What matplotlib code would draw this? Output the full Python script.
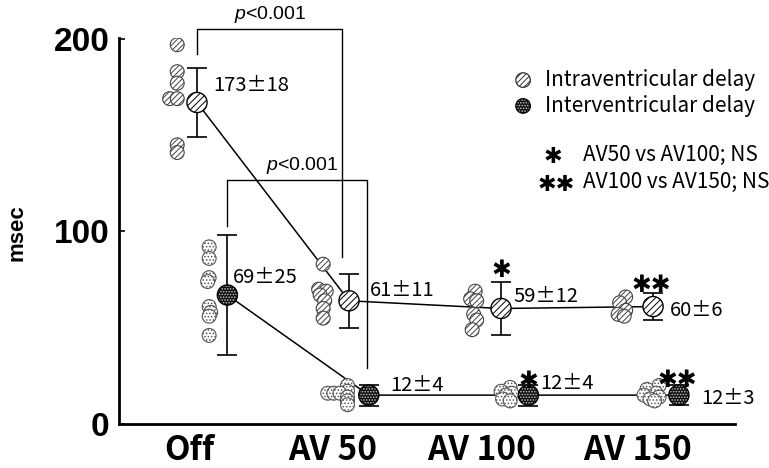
import numpy as np
import matplotlib
matplotlib.use("Agg")
import matplotlib.pyplot as plt

# fonts: Japanese gothic style for the labels, Arial-like for the axis numbers
JP = ['Noto Sans CJK JP', 'DejaVu Sans']
SANS = 'Liberation Sans'
plt.rcParams['hatch.linewidth'] = 0.7
plt.rcParams['mathtext.fontset'] = 'custom'
plt.rcParams['mathtext.it'] = 'Liberation Sans:italic'
plt.rcParams['mathtext.rm'] = 'Liberation Sans'

# 1. Data (msec)

conditions = ['Off', 'AV 50', 'AV 100', 'AV 150']

intra_points = [
    [197, 183, 177, 169, 169, 145, 141],
    [83, 70, 69, 67, 64, 60, 55],
    [69, 65, 64, 57, 54, 49],
    [66, 63, 59, 57, 56],
]
inter_points = [
    [92, 86, 76, 74, 61, 58, 56, 46],
    [20, 17, 16, 16, 16, 14, 12, 10],
    [19, 17, 16, 15, 13, 12],
    [20, 18, 16, 15, 14, 13, 12],
]

intra_mean = [167, 64, 60, 61]
intra_sd = [18, 14, 14, 7]
inter_mean = [67, 15, 15, 15]
inter_sd = [31, 5.5, 5.5, 5]

intra_labels = ['173\u00b118', '61\u00b111', '59\u00b112', '60\u00b16']
inter_labels = ['69\u00b125', '12\u00b14', '12\u00b14', '12\u00b13']

# 2. Layout (x offsets in category units)

intra_ind_dx = [-0.13, -0.17, -0.18, -0.20]
inter_ind_dx = [0.08, -0.04, 0.03, 0.0]
inter_mean_dx = [0.20, 0.13, 0.18, 0.17]
intra_jitter = [
    [0, 0, 0, -0.05, 0, 0, 0],
    [0.0, -0.03, 0.02, -0.02, 0.01, 0, 0],
    [0.01, -0.02, 0.02, 0, 0.02, -0.01],
    [0.02, -0.02, 0.02, -0.03, 0.01],
]
inter_jitter = [
    [0, 0, 0, -0.01, 0, 0.01, 0, 0],
    [0.03, 0.03, -0.10, -0.06, -0.02, 0.03, 0.03, 0.03],
    [0.03, -0.03, 0.04, 0, -0.02, 0.03],
    [0.04, -0.04, 0.02, -0.06, 0.04, -0.02, 0.01],
]
tick_shift = [-0.05, -0.11, -0.125, -0.10]

IND_S = 100
MEAN_S = 210

fig = plt.figure(figsize=(7.69, 4.68), dpi=100)
ax = fig.add_axes([119/769, 44/468, 616/769, 386/468])

x = np.arange(len(conditions))
xi_mean = x.astype(float)
xe_mean = x + np.array(inter_mean_dx)

# connecting lines
ax.plot(xi_mean, intra_mean, color='black', lw=1.1, zorder=1)
ax.plot(xe_mean, inter_mean, color='black', lw=1.1, zorder=1)

# individual patients
for i in range(len(conditions)):
    xs = i + intra_ind_dx[i] + np.array(intra_jitter[i])
    ax.scatter(xs, intra_points[i], s=IND_S, facecolor='white', edgecolor='#444444',
               hatch='//////', linewidth=0.8, zorder=3)
    xs = i + inter_ind_dx[i] + np.array(inter_jitter[i])
    ax.scatter(xs, inter_points[i], s=IND_S, facecolor='white', edgecolor='#555555',
               hatch='.....', linewidth=0.8, zorder=3)

# error bars + means
ax.errorbar(xi_mean, intra_mean, yerr=intra_sd, fmt='none', ecolor='black',
            elinewidth=1.2, capsize=7, capthick=1.2, zorder=2)
ax.errorbar(xe_mean, inter_mean, yerr=inter_sd, fmt='none', ecolor='black',
            elinewidth=1.2, capsize=7, capthick=1.2, zorder=2)
ax.scatter(xi_mean, intra_mean, s=MEAN_S, facecolor='white', edgecolor='black',
           hatch='/////', linewidth=1.0, zorder=4)
ax.scatter(xe_mean, inter_mean, s=MEAN_S, facecolor='#111111', edgecolor='#cccccc',
           hatch='......', linewidth=0, zorder=4)
ax.scatter(xe_mean, inter_mean, s=MEAN_S, facecolor='none', edgecolor='black',
           linewidth=1.0, zorder=5)

# mean +- sd labels
txt = dict(fontsize=14.5, family=JP, va='center', ha='left')
intra_txt_pos = [(0.105, 176), (1.138, 69.5), (2.08, 66), (3.11, 59)]
inter_txt_pos = [(0.237, 76), (1.27, 20), (2.257, 21), (3.32, 13.5)]
for (tx, ty), lab in zip(intra_txt_pos, intra_labels):
    ax.text(tx, ty, lab, **txt)
for (tx, ty), lab in zip(inter_txt_pos, inter_labels):
    ax.text(tx, ty, lab, **txt)

# NS markers
star = dict(fontsize=17, family='DejaVu Sans', ha='center', va='center',
            fontweight='bold', zorder=6)
ax.text(2.0, 80, '\u2731', **star)
ax.text(xe_mean[2], 22.5, '\u2731', **star)
ax.text(2.99, 72, '\u2731\u2731', **star)
ax.text(xe_mean[3] - 0.01, 23, '\u2731\u2731', **star)

# significance brackets
ax.plot([0, 0, 0.954, 0.954], [192, 205, 205, 87], color='black', lw=1.0,
        clip_on=False)
ax.text(0.48, 207, '$p$<0.001', fontsize=14, family=SANS, ha='center',
        va='bottom')
ax.plot([xe_mean[0], xe_mean[0], 1.118, 1.118], [103, 127, 127, 29],
        color='black', lw=1.0, clip_on=False)
ax.text(0.69, 129, '$p$<0.001', fontsize=14, family=SANS, ha='center',
        va='bottom')

# legend (drawn by hand)
ax.scatter([0.656], [0.891], s=IND_S*1.1, transform=ax.transAxes,
           facecolor='white', edgecolor='#333333', hatch='//////',
           linewidth=0.9, clip_on=False)
ax.scatter([0.656], [0.824], s=IND_S*1.1, transform=ax.transAxes,
           facecolor='#111111', edgecolor='#cccccc', hatch='......',
           linewidth=0, clip_on=False)
ax.scatter([0.656], [0.824], s=IND_S*1.1, transform=ax.transAxes,
           facecolor='none', edgecolor='black', linewidth=0.9, clip_on=False)
leg = dict(fontsize=15, family=JP, va='center', ha='left',
           transform=ax.transAxes)
ax.text(0.692, 0.891, 'Intraventricular delay', **leg)
ax.text(0.692, 0.824, 'Interventricular delay', **leg)
ax.text((553-119)/616, (424-157)/386, '\u2731', transform=ax.transAxes,
        fontsize=16, family='DejaVu Sans', ha='center', va='center')
ax.text((556-119)/616, (424-185)/386, '\u2731\u2731', transform=ax.transAxes,
        fontsize=16, family='DejaVu Sans', ha='center', va='center')
ax.text((583-119)/616, (424-155)/386, 'AV50 vs AV100; NS', **leg)
ax.text((583-119)/616, (424-182)/386, 'AV100 vs AV150; NS', **leg)

# axes styling
ax.set_xlim(-0.513, 3.539)
ax.set_ylim(0, 200.5)
for s in ['top', 'right']:
    ax.spines[s].set_visible(False)
for s in ['left', 'bottom']:
    ax.spines[s].set_linewidth(2.0)
ax.set_yticks([0, 100, 200])
ax.set_yticklabels(['0', '100', '200'], fontsize=24, fontweight='bold',
                   family=SANS)
ax.tick_params(axis='y', direction='in', length=4, width=1.2, pad=7)
ax.set_xticks(x + np.array(tick_shift))
ax.set_xticklabels(conditions, fontsize=24, fontweight='bold', family=JP)
ax.tick_params(axis='x', length=0, pad=7)
ax.set_ylabel('msec', fontsize=16, fontweight='bold', family=SANS)
ax.yaxis.set_label_coords(-0.148, 0.495)

fig.savefig('out.png', dpi=100)
